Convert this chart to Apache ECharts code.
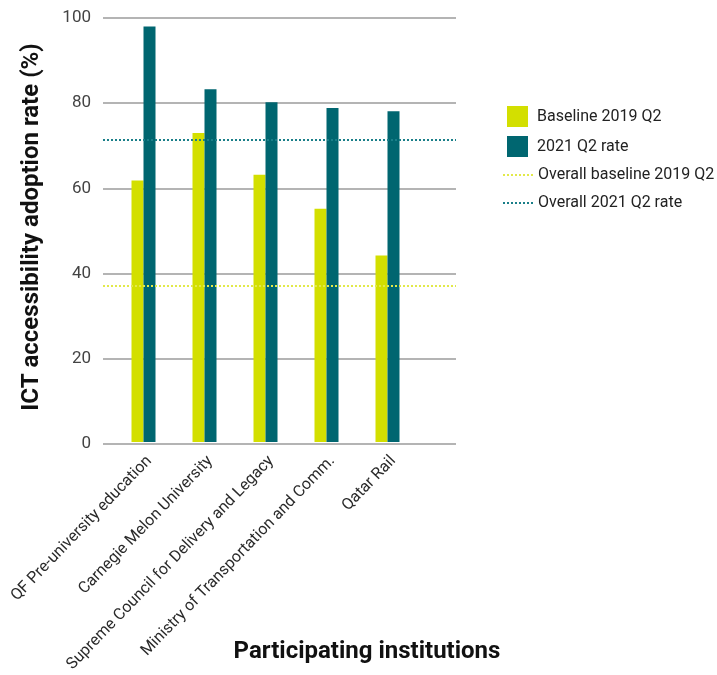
<!DOCTYPE html>
<html>
<head>
<meta charset="utf-8">
<script src="https://cdn.jsdelivr.net/npm/echarts@6/dist/echarts.min.js"></script>
<style>
  html, body { margin: 0; padding: 0; background: #fff; }
  #chart { width: 717px; height: 675px; }
</style>
</head>
<body>
<div id="chart"></div>
<script>
(function () {
    'use strict';

    var institutions = [
        'QF Pre-university education',
        'Carnegie Melon University',
        'Supreme Council for Delivery and Legacy',
        'Ministry of Transportation and Comm.',
        'Qatar Rail'
    ];
    var baseline2019 = [61.7, 72.9, 63, 55, 44];
    var rate2021 = [98, 83.2, 80.1, 78.8, 78];
    var overallBaseline = 37.1;
    var overallRate = 71.4;
    var yTicks = [0, 20, 40, 60, 80, 100];

    var yellow = '#d3df00';
    var teal = '#006670';
    var font = 'Roboto';

    var myChart = echarts.init(document.getElementById('chart'));

    myChart.setOption({
        animation: false,
        grid: [
            { left: 103, right: 261, top: 18, bottom: 231 },
            { left: 113, width: 305, top: 18, bottom: 231 }
        ],
        xAxis: [
            { gridIndex: 0, type: 'value', min: 0, max: 1, show: false },
            {
                gridIndex: 1,
                type: 'category',
                data: institutions,
                axisLine: { show: false },
                axisTick: { show: false },
                axisLabel: {
                    rotate: 46,
                    interval: 0,
                    margin: 11,
                    verticalAlign: 'top',
                    fontFamily: font,
                    fontSize: 16,
                    color: '#2a2a2a'
                }
            }
        ],
        yAxis: [
            {
                gridIndex: 0,
                type: 'value',
                min: yTicks[0],
                max: yTicks[yTicks.length - 1],
                interval: 20,
                axisLine: { show: false },
                axisTick: { show: false },
                axisLabel: { margin: 12, fontFamily: font, fontSize: 17, color: '#444' },
                splitLine: { lineStyle: { color: '#b4b4b4', width: 2 } }
            },
            { gridIndex: 1, type: 'value', min: 0, max: 100, show: false }
        ],
        legend: [
            {
                orient: 'vertical',
                left: 502,
                top: 101,
                icon: 'rect',
                itemWidth: 21,
                itemHeight: 21,
                itemGap: 9,
                textStyle: { fontFamily: font, fontSize: 16, color: '#222', padding: [0, 0, 0, 4] },
                data: ['Baseline 2019 Q2', '2021 Q2 rate']
            },
            {
                orient: 'vertical',
                left: 497,
                top: 162,
                itemWidth: 30,
                itemHeight: 14,
                itemGap: 12,
                itemStyle: { opacity: 0 },
                textStyle: { fontFamily: font, fontSize: 16, color: '#222', padding: [0, 0, 0, 0] },
                data: ['Overall baseline 2019 Q2', 'Overall 2021 Q2 rate']
            }
        ],
        graphic: [
            {
                type: 'text',
                x: 32,
                y: 227,
                rotation: Math.PI / 2,
                style: {
                    text: 'ICT accessibility adoption rate (%)',
                    font: 'bold 24px ' + font,
                    fill: '#111',
                    textAlign: 'center',
                    textVerticalAlign: 'middle'
                }
            },
            {
                type: 'text',
                x: 367,
                y: 652,
                style: {
                    text: 'Participating institutions',
                    font: 'bold 24px ' + font,
                    fill: '#111',
                    textAlign: 'center',
                    textVerticalAlign: 'middle'
                }
            }
        ],
        series: [
            {
                name: 'Baseline 2019 Q2',
                type: 'bar',
                xAxisIndex: 1,
                yAxisIndex: 1,
                barWidth: 12,
                barGap: '0%',
                itemStyle: { color: yellow },
                data: baseline2019
            },
            {
                name: '2021 Q2 rate',
                type: 'bar',
                xAxisIndex: 1,
                yAxisIndex: 1,
                barWidth: 12,
                barGap: '0%',
                itemStyle: { color: teal },
                data: rate2021
            },
            {
                name: 'Overall baseline 2019 Q2',
                type: 'line',
                xAxisIndex: 0,
                yAxisIndex: 0,
                symbol: 'none',
                z: 5,
                lineStyle: { color: '#e2e94a', width: 2, type: [2, 2] },
                itemStyle: { color: '#e2e94a' },
                data: [[0, overallBaseline]],
                markLine: {
                    silent: true,
                    symbol: 'none',
                    label: { show: false },
                    lineStyle: { color: '#e2e94a', width: 2, type: [2, 2] },
                    data: [{ yAxis: overallBaseline }]
                }
            },
            {
                name: 'Overall 2021 Q2 rate',
                type: 'line',
                xAxisIndex: 0,
                yAxisIndex: 0,
                symbol: 'none',
                z: 5,
                lineStyle: { color: '#1a7f89', width: 2, type: [2, 2] },
                itemStyle: { color: '#1a7f89' },
                data: [[0, overallRate]],
                markLine: {
                    silent: true,
                    symbol: 'none',
                    label: { show: false },
                    lineStyle: { color: '#1a7f89', width: 2, type: [2, 2] },
                    data: [{ yAxis: overallRate }]
                }
            }
        ]
    });
}());
</script>
</body>
</html>
